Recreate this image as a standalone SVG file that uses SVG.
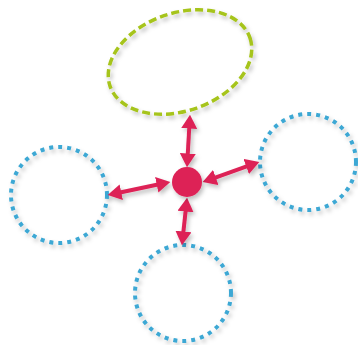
<svg xmlns="http://www.w3.org/2000/svg" width="358" height="345" viewBox="0 0 358 345">
<defs>
<filter id="sh" x="-20%" y="-20%" width="140%" height="140%">
<feDropShadow dx="2" dy="3" stdDeviation="2" flood-color="#000" flood-opacity="0.25"/>
</filter>
<marker id="ah" markerUnits="userSpaceOnUse" markerWidth="14" markerHeight="16" viewBox="0 0 13 15" refX="8" refY="7.5" orient="auto-start-reverse">
<path d="M0,0 L13,7.5 L0,15 z" fill="#dd2157"/>
</marker>
<style>
.blue{fill:none;stroke:#3ea8d4;stroke-width:4;stroke-dasharray:4 5}
.green{fill:none;stroke:#a6c41a;stroke-width:3.5;stroke-dasharray:8 4}
.conn{stroke:#dd2157;stroke-width:4;fill:none;marker-start:url(#ah);marker-end:url(#ah)}
</style>
</defs>
<rect width="358" height="345" fill="#fff"/>
<g id="top" filter="url(#sh)">
<ellipse class="green" cx="180" cy="62" rx="74" ry="49" transform="rotate(-19 180 62)"/>
</g>
<g id="left" filter="url(#sh)">
<circle class="blue" cx="59" cy="195" r="48"/>
</g>
<g id="right" filter="url(#sh)">
<circle class="blue" cx="308" cy="162" r="48"/>
</g>
<g id="bottom" filter="url(#sh)">
<circle class="blue" cx="183" cy="293" r="48"/>
</g>
<g id="connectors" filter="url(#sh)">
<line class="conn" x1="189.7" y1="120" x2="187.3" y2="162"/>
<line class="conn" x1="112.9" y1="194" x2="165.1" y2="183"/>
<line class="conn" x1="207.7" y1="180.3" x2="254.3" y2="163.7"/>
<line class="conn" x1="186.5" y1="203" x2="182.5" y2="240"/>
</g>
<g id="center" filter="url(#sh)">
<circle cx="187" cy="182" r="15" fill="#dd2157"/>
</g>
</svg>
